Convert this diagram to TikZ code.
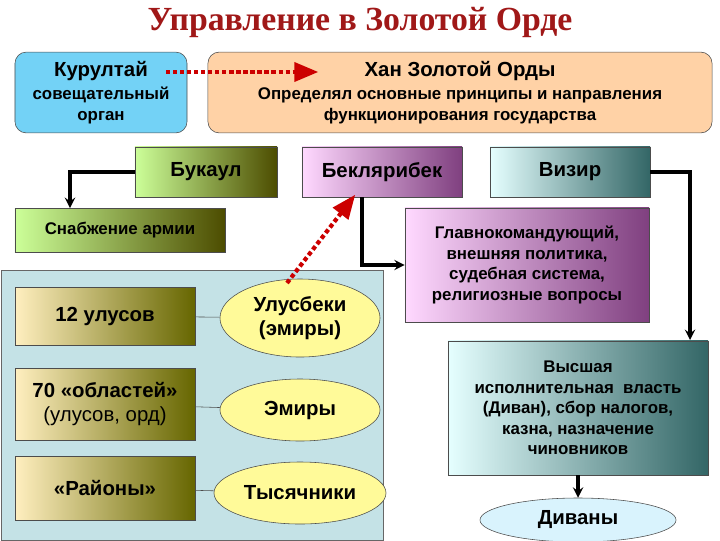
\documentclass[tikz,border=0pt]{standalone}
\usepackage{fontspec}
\setmainfont{Liberation Sans}
\newfontfamily\titlefont{Liberation Serif}
\usetikzlibrary{shapes.geometric}
\usetikzlibrary{arrows}
\usetikzlibrary{positioning}
\definecolor{titlered}{HTML}{A01818}
\definecolor{panelblue}{HTML}{C4E2E6}
\newcommand{\midtext}{\fontsize{12}{14.5}\selectfont}
\newcommand{\bigtext}{\fontsize{14.5}{17}\selectfont}
\tikzstyle{box} = [rectangle, text centered, align=center, draw=black!70, font=\bfseries\midtext]
\tikzstyle{greenbox} = [box, left color=green!50!yellow!40, right color=olive!60!black]
\tikzstyle{pinkbox} = [box, left color=magenta!15, right color=violet!50!gray]
\tikzstyle{tealbox} = [box, left color=cyan!10, right color=teal!50!black!80]
\tikzstyle{goldbox} = [box, left color=yellow!50!orange!25, right color=olive!50!black!80]
\tikzstyle{oval} = [ellipse, draw=black!70, fill=yellow!40, align=center, font=\bfseries\bigtext]
\tikzstyle{arrow} = [line width=2.2pt,-{stealth}]
\tikzstyle{redarrow} = [line width=3pt, dotted, red!80!black, -{triangle 45}]

\begin{document}
\begin{tikzpicture}[x=0.025cm, y=-0.025cm]
\useasboundingbox (0,0) rectangle (720,540);

\node (title) at (360,22) [font=\titlefont\bfseries\fontsize{24}{28}\selectfont, text=titlered]{Управление в Золотой Орде};

\node (kurultai) at (101,92.5) [box, rounded corners=8pt, fill=cyan!55, minimum width=4.3cm, minimum height=2.02cm]{{\bigtext Курултай}\\[2pt]совещательный\\орган};
\node (khan) at (460,92.5) [box, rounded corners=8pt, fill=orange!35, minimum width=12.6cm, minimum height=2.02cm]{{\bigtext Хан Золотой Орды}\\[2pt]Определял основные принципы и направления\\функционирования государства};
\coordinate (kurend) at (166,72);
\coordinate (khanin) at (318,72);
\draw [redarrow](kurend) -- (khanin);

\node (bukaul) at (206,172) [greenbox, minimum width=3.55cm, minimum height=1.25cm, font=\bfseries\bigtext]{Букаул};
\node (beklaribek) at (382,172) [pinkbox, minimum width=4cm, minimum height=1.25cm, font=\bfseries\bigtext]{Беклярибек};
\node (vizir) at (570,172) [tealbox, minimum width=4cm, minimum height=1.25cm, font=\bfseries\bigtext]{Визир};

\node (supply) at (120,230) [greenbox, minimum width=5.25cm, minimum height=1.1cm]{Снабжение армии};
\node (chief) at (527,265) [pinkbox, minimum width=6.1cm, minimum height=2.85cm]{Главнокомандующий,\\внешняя политика,\\судебная система,\\религиозные вопросы};
\node (divan) at (578,408) [tealbox, minimum width=6.5cm, minimum height=3.35cm]{Высшая\\исполнительная\ \ власть\\(Диван), сбор налогов,\\казна, назначение\\чиновников};
\node (divany) at (578,520) [ellipse, draw=black!70, fill=cyan!15, minimum width=4.9cm, minimum height=1.1cm, font=\bfseries\bigtext]{Диваны};

\coordinate (supplyin) at (70,208);
\coordinate (divanin) at (690,340);
\coordinate (bekout) at (362,197);
\draw [arrow](bukaul.west) -| (supplyin);
\draw [arrow](bekout) |- (chief.west);
\draw [arrow](vizir.east) -| (divanin);
\draw [arrow](divan) -- (divany);

% panel of the uluses
\node (panel) at (192.5,405) [rectangle, draw=black!60, fill=panelblue, minimum width=9.55cm, minimum height=6.75cm]{};

\node (ulus) at (105,316) [goldbox, minimum width=4.5cm, minimum height=1.45cm, font=\bfseries\bigtext]{12 улусов};
\node (oblast) at (105,404) [goldbox, minimum width=4.5cm, minimum height=1.8cm, font=\bigtext]{\textbf{70 «областей»}\\(улусов, орд)};
\node (raion) at (105,488) [goldbox, minimum width=4.5cm, minimum height=1.6cm, font=\bfseries\bigtext]{«Районы»};

\node (ulusbek) at (300,318) [oval, minimum width=4cm, minimum height=1.95cm]{Улусбеки\\(эмиры)};
\node (emir) at (300,410) [oval, minimum width=4cm, minimum height=1.55cm]{Эмиры};
\node (thousand) at (300,493) [oval, minimum width=4.2cm, minimum height=1.55cm]{Тысячники};

\draw [black!70](ulus) -- (ulusbek);
\draw [black!70](oblast) -- (emir);
\draw [black!70](raion) -- (thousand);

\coordinate (ubtop) at (287,283);
\coordinate (bekin) at (355,195);
\draw [redarrow](ubtop) -- (bekin);

\end{tikzpicture}
\end{document}
